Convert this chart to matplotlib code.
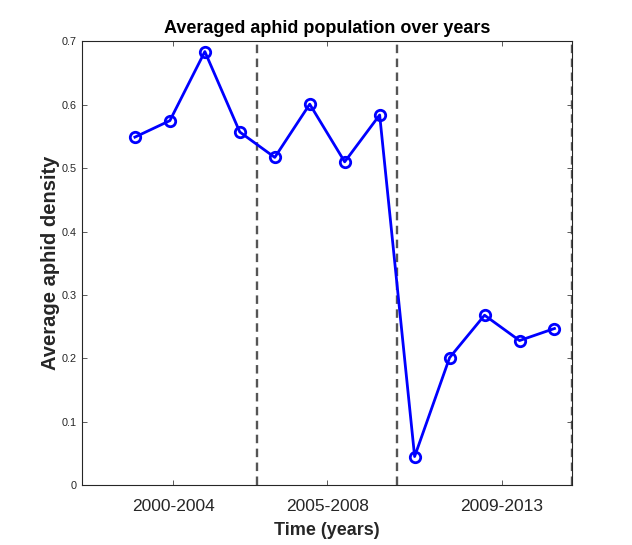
import matplotlib
matplotlib.use("Agg")
import matplotlib.pyplot as plt
import numpy as np

plt.rcParams['font.family'] = ['Liberation Sans', 'DejaVu Sans']

# Data
density = [0.549, 0.575, 0.684, 0.557, 0.517, 0.601, 0.510, 0.584,
           0.045, 0.201, 0.268, 0.228, 0.247]
period_labels = ['2000-2004', '2005-2008', '2009-2013']
period_tick_pos = [2.6, 7.0, 12.0]
period_bounds = [5, 9, 14]
yticks = [0, 0.1, 0.2, 0.3, 0.4, 0.5, 0.6, 0.7]
ytick_labels = ['0', '0.1', '0.2', '0.3', '0.4', '0.5', '0.6', '0.7']

x = np.arange(len(density)) + 1.5

fig = plt.figure(figsize=(6.32, 5.45), dpi=100)
ax = fig.add_axes([0.1305, 0.110, 0.7745, 0.814])

for b in period_bounds:
    ax.axvline(b, color='#555555', linewidth=1.7, linestyle=(0, (3.6, 2.3)), zorder=1)

ax.plot(x, density, color='#0000ff', linewidth=2.0, marker='o', markersize=7.5,
        markerfacecolor='none', markeredgewidth=2.0, markeredgecolor='#0000ff', zorder=3)

ax.set_xlim(0, 14)
ax.set_ylim(0, 0.7)
ax.set_xticks(period_tick_pos)
ax.set_xticklabels(period_labels, fontsize=12.5, color='#262626')
ax.set_yticks(yticks)
ax.set_yticklabels(ytick_labels, fontsize=7.8, color='#262626')

ax.tick_params(axis='both', direction='in', top=True, right=True, length=3.6,
               width=0.6, color='#404040')
ax.tick_params(axis='x', pad=10)
ax.tick_params(axis='y', pad=4)

for s in ax.spines.values():
    s.set_color('#262626')
    s.set_linewidth(0.8)

ax.set_title('Averaged aphid population over years', fontsize=13, fontweight='bold',
             pad=6)
ax.set_xlabel('Time (years)', fontsize=13, fontweight='bold', color='#262626', labelpad=6)
ax.set_ylabel('Average aphid density', fontsize=14.5, fontweight='bold', color='#262626',
              labelpad=1.5)

fig.savefig('out.png', dpi=100)
